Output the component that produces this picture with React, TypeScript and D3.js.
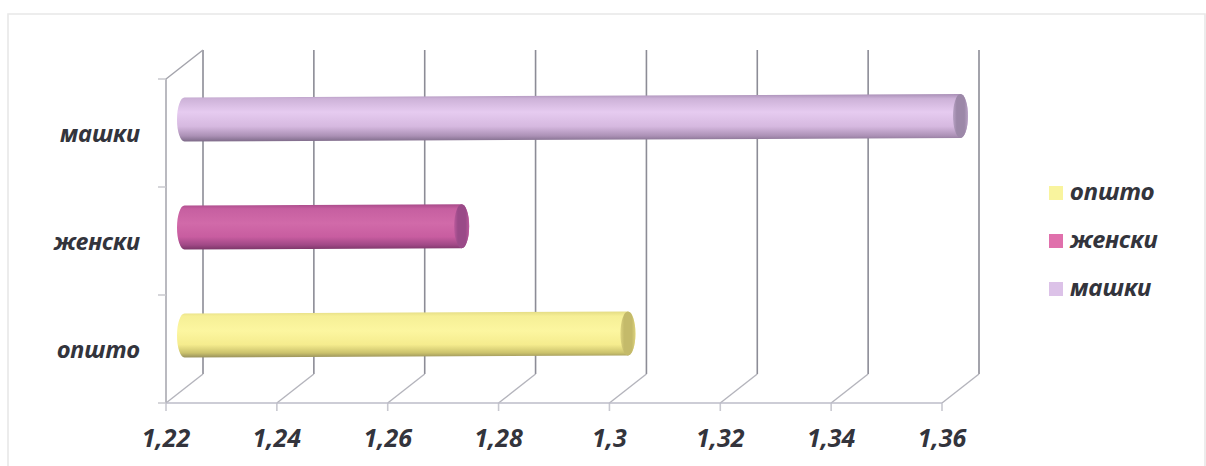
import React from "react";
import * as d3 from "d3";

// Average values per group, top row first
const categories = ["машки", "женски", "општо"];
const values = [1.36, 1.27, 1.3];
const xTicks = [1.22, 1.24, 1.26, 1.28, 1.3, 1.32, 1.34, 1.36];
const legendItems = ["општо", "женски", "машки"];

const cylinderStops: Record<string, [number, string][]> = {
  машки: [[0, "#a98fb6"], [0.1, "#cdb2d8"], [0.38, "#e6cbf0"], [0.68, "#d6b9e0"], [0.88, "#ac91b6"], [1, "#7d6a88"]],
  женски: [[0, "#a84a89"], [0.1, "#c65fa0"], [0.42, "#d16aa9"], [0.72, "#c85da0"], [0.9, "#a04886"], [1, "#7a3668"]],
  општо: [[0, "#e4dc84"], [0.1, "#f6ef96"], [0.42, "#fcf6a0"], [0.72, "#f5ec8e"], [0.9, "#cbc26c"], [1, "#98915c"]],
};
const capColor: Record<string, [string, string]> = {
  машки: ["#9c88a8", "#b8a2c4"],
  женски: ["#9a4a88", "#bb5a9c"],
  општо: ["#c4ba6a", "#dcd27e"],
};
const swatchColor: Record<string, string> = { општо: "#f9f49e", женски: "#e070ac", машки: "#dcc2e8" };

const width = 1206;
const height = 466;
const fontFamily = "'Noto Sans', 'Open Sans', sans-serif";
const textColor = "#33343c";

// Oblique projection of the 3D chart box
const depthX = 37;
const depthY = -29;
const front = { left: 166, right: 942, top: 79, bottom: 403 };

const x = d3.scaleLinear().domain([1.22, 1.36]).range([front.left, front.right]);
const y = d3.scaleBand<string>().domain(categories).range([front.top, front.bottom]);
const formatTick = (v: number) => String(v).replace(".", ",");

// Horizontal cylinder sitting halfway along the depth of the box
function Cylinder({ name, value }: { name: string; value: number }) {
  const x0 = x(1.22) + depthX / 2;
  const x1 = x(value) + depthX / 2;
  const cy = (y(name) as number) + y.bandwidth() / 2 + depthY / 2 + 1;
  const tilt = (x1 - x0) * -0.0045;
  const r = 22;
  const rx = 7.5;
  const d =
    `M${x0},${cy - r} L${x1},${cy - r + tilt} ` +
    `A${rx},${r} 0 0 1 ${x1},${cy + r + tilt} L${x0},${cy + r} ` +
    `A${rx},${r} 0 0 1 ${x0},${cy - r} Z`;
  const i = categories.indexOf(name);
  return (
    <g>
      <path d={d} fill={`url(#cyl-${i})`} />
      <ellipse cx={x1} cy={cy + tilt} rx={rx} ry={r} fill={`url(#cap-${i})`} />
    </g>
  );
}

export default function App() {
  const bandTicks = [front.top, front.top + 108, front.top + 216, front.bottom];
  const labelStyle = { fontWeight: 700, fontStyle: "italic", fill: textColor } as const;
  return (
    <svg
      width={width}
      height={height}
      viewBox={`0 0 ${width} ${height}`}
      style={{ position: "absolute", left: 0, top: 0, background: "#fff" }}
      fontFamily={fontFamily}
    >
      <defs>
        {categories.map((c, i) => (
          <linearGradient key={c} id={`cyl-${i}`} x1="0" y1="0" x2="0" y2="1">
            {cylinderStops[c].map(([o, col]) => (
              <stop key={o} offset={o} stopColor={col} />
            ))}
          </linearGradient>
        ))}
        {categories.map((c, i) => (
          <linearGradient key={c} id={`cap-${i}`} x1="0" y1="0" x2="1" y2="0">
            <stop offset={0} stopColor={capColor[c][1]} />
            <stop offset={0.25} stopColor={capColor[c][0]} />
            <stop offset={0.75} stopColor={capColor[c][0]} />
            <stop offset={1} stopColor={capColor[c][1]} />
          </linearGradient>
        ))}
      </defs>

      {/* outer chart frame */}
      <path d={`M8,${height} V14 H1205 V${height}`} fill="none" stroke="#e8e8e8" strokeWidth={1.6} />

      {/* back wall gridlines and floor diagonals */}
      {xTicks.map((t) => (
        <g key={t} fill="none">
          <path
            d={`M${x(t) + depthX},${front.top + depthY} V${front.bottom + depthY}`}
            stroke="#8c8c96"
            strokeWidth={1.6}
          />
          <path
            d={`M${x(t) + depthX},${front.bottom + depthY} L${x(t)},${front.bottom}`}
            stroke="#b4b4bc"
            strokeWidth={1.4}
          />
          <path d={`M${x(t)},${front.bottom} V${front.bottom + 8}`} stroke="#c8c8d0" strokeWidth={1.6} />
        </g>
      ))}

      {/* side wall */}
      <path
        d={`M${front.left},${front.bottom} V${front.top} L${front.left + depthX},${front.top + depthY}`}
        fill="none"
        stroke="#a4a4ac"
        strokeWidth={1.5}
      />
      {bandTicks.map((t) => (
        <path key={t} d={`M${front.left - 8},${t} H${front.left}`} stroke="#c8c8ce" strokeWidth={1.5} />
      ))}
      <path d={`M${front.left},${front.bottom} H${front.right}`} stroke="#bcbcc8" strokeWidth={1.6} />

      {categories.map((c, i) => (
        <Cylinder key={c} name={c} value={values[i]} />
      ))}

      {/* category labels */}
      {categories.map((c) => (
        <text
          key={c}
          x={140}
          y={(y(c) as number) + y.bandwidth() / 2 + 9}
          textAnchor="end"
          fontSize={23.6}
          {...labelStyle}
        >
          {c}
        </text>
      ))}

      {/* value axis labels */}
      {xTicks.map((t) => (
        <text key={t} x={x(t)} y={447} textAnchor="middle" fontSize={25} {...labelStyle}>
          {formatTick(t)}
        </text>
      ))}

      {/* legend */}
      {legendItems.map((name, i) => (
        <g key={name} transform={`translate(1049,${186 + i * 48})`}>
          <rect width={14} height={14} fill={swatchColor[name]} />
          <text x={21} y={14} fontSize={24} {...labelStyle}>
            {name}
          </text>
        </g>
      ))}
    </svg>
  );
}
